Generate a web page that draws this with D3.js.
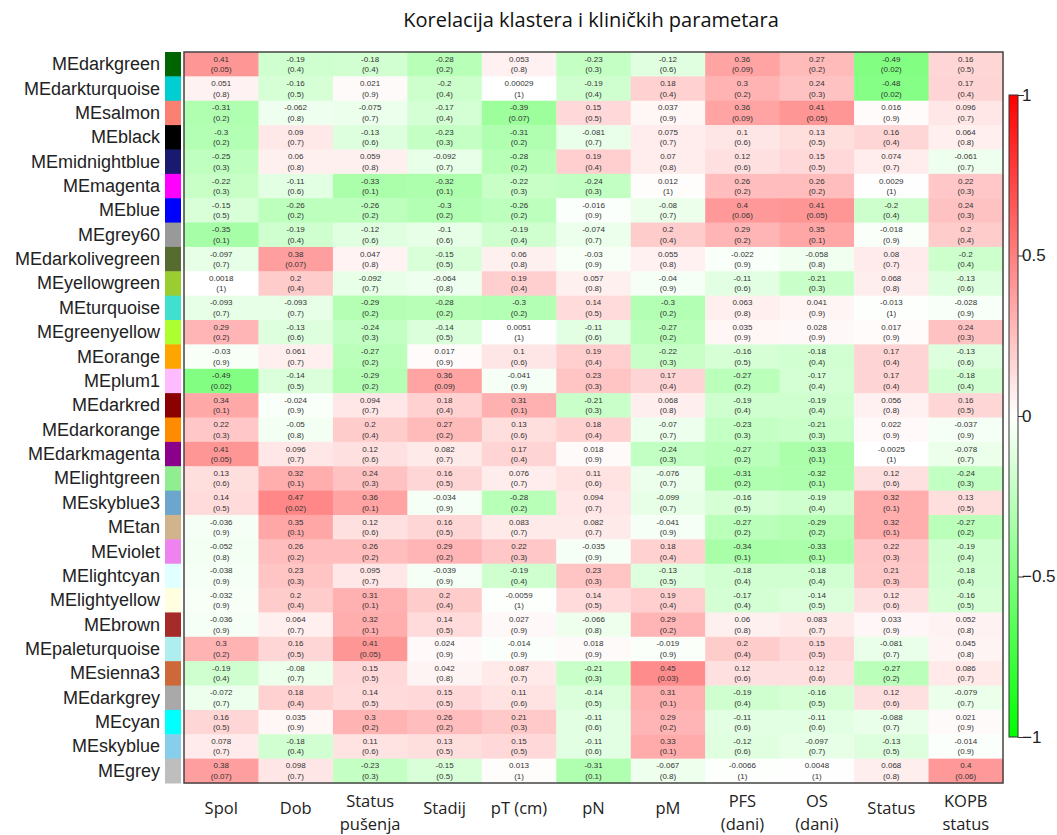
<!DOCTYPE html>
<html>
<head>
<meta charset="utf-8">
<script src="https://cdn.jsdelivr.net/npm/d3@7"></script>
<style>
  body { margin: 0; background: #fff; }
  svg { display: block; }
</style>
</head>
<body>
<svg id="chart" width="1057" height="835"></svg>
<script>

// Module eigengenes (rows)
const modules = ["darkgreen", "darkturquoise", "salmon", "black", "midnightblue", "magenta", "blue", "grey60",
    "darkolivegreen", "yellowgreen", "turquoise", "greenyellow", "orange", "plum1", "darkred", "darkorange",
    "darkmagenta", "lightgreen", "skyblue3", "tan", "violet", "lightcyan", "lightyellow", "brown",
    "paleturquoise", "sienna3", "darkgrey", "cyan", "skyblue", "grey"];

// Clinical traits (columns)
const traits = ["Spol", "Dob", "Status\npušenja", "Stadij", "pT (cm)", "pN", "pM", "PFS\n(dani)", "OS\n(dani)", "Status", "KOPB\nstatus"];

// Correlations, one row per module
const corr = [
    [0.41, -0.19, -0.18, -0.28, 0.053, -0.23, -0.12, 0.36, 0.27, -0.49, 0.16],
    [0.051, -0.16, 0.021, -0.2, 0.00029, -0.19, 0.18, 0.3, 0.24, -0.48, 0.17],
    [-0.31, -0.062, -0.075, -0.17, -0.39, 0.15, 0.037, 0.36, 0.41, 0.016, 0.096],
    [-0.3, 0.09, -0.13, -0.23, -0.31, -0.081, 0.075, 0.1, 0.13, 0.16, 0.064],
    [-0.25, 0.06, 0.059, -0.092, -0.28, 0.19, 0.07, 0.12, 0.15, 0.074, -0.061],
    [-0.22, -0.11, -0.33, -0.32, -0.22, -0.24, 0.012, 0.26, 0.26, 0.0029, 0.22],
    [-0.15, -0.26, -0.26, -0.3, -0.26, -0.016, -0.08, 0.4, 0.41, -0.2, 0.24],
    [-0.35, -0.19, -0.12, -0.1, -0.19, -0.074, 0.2, 0.29, 0.35, -0.018, 0.2],
    [-0.097, 0.38, 0.047, -0.15, 0.06, -0.03, 0.055, -0.022, -0.058, 0.08, -0.2],
    [0.0018, 0.2, -0.092, -0.064, 0.19, 0.057, -0.04, -0.11, -0.21, 0.068, -0.13],
    [-0.093, -0.093, -0.29, -0.28, -0.3, 0.14, -0.3, 0.063, 0.041, -0.013, -0.028],
    [0.29, -0.13, -0.24, -0.14, 0.0051, -0.11, -0.27, 0.035, 0.028, 0.017, 0.24],
    [-0.03, 0.061, -0.27, 0.017, 0.1, 0.19, -0.22, -0.16, -0.18, 0.17, -0.13],
    [-0.49, -0.14, -0.29, 0.36, -0.041, 0.23, 0.17, -0.27, -0.17, 0.17, -0.18],
    [0.34, -0.024, 0.094, 0.18, 0.31, -0.21, 0.068, -0.19, -0.19, 0.056, 0.16],
    [0.22, -0.05, 0.2, 0.27, 0.13, 0.18, -0.07, -0.23, -0.21, 0.022, -0.037],
    [0.41, 0.096, 0.12, 0.082, 0.17, 0.018, -0.24, -0.27, -0.33, -0.0025, -0.078],
    [0.13, 0.32, 0.24, 0.16, 0.076, 0.11, -0.076, -0.31, -0.32, 0.12, -0.24],
    [0.14, 0.47, 0.36, -0.034, -0.28, 0.094, -0.099, -0.16, -0.19, 0.32, 0.13],
    [-0.036, 0.35, 0.12, 0.16, 0.083, 0.082, -0.041, -0.27, -0.29, 0.32, -0.27],
    [-0.052, 0.26, 0.26, 0.29, 0.22, -0.035, 0.18, -0.34, -0.33, 0.22, -0.19],
    [-0.038, 0.23, 0.095, -0.039, -0.19, 0.23, -0.13, -0.18, -0.18, 0.21, -0.18],
    [-0.032, 0.2, 0.31, 0.2, -0.0059, 0.14, 0.19, -0.17, -0.14, 0.12, -0.16],
    [-0.036, 0.064, 0.32, 0.14, 0.027, -0.066, 0.29, 0.06, 0.083, 0.033, 0.052],
    [0.3, 0.16, 0.41, 0.024, -0.014, 0.018, -0.019, 0.2, 0.15, -0.081, 0.045],
    [-0.19, -0.08, 0.15, 0.042, 0.087, -0.21, 0.45, 0.12, 0.12, -0.27, 0.086],
    [-0.072, 0.18, 0.14, 0.15, 0.11, -0.14, 0.31, -0.19, -0.16, 0.12, -0.079],
    [0.16, 0.035, 0.3, 0.26, 0.21, -0.11, 0.29, -0.11, -0.11, -0.088, 0.021],
    [0.078, -0.18, 0.11, 0.13, 0.15, -0.11, 0.33, -0.12, -0.097, -0.13, -0.014],
    [0.38, 0.098, -0.23, -0.15, 0.013, -0.31, -0.067, -0.0066, 0.0048, 0.068, 0.4]
];

// p-values, same layout
const pval = [
    [0.05, 0.4, 0.4, 0.2, 0.8, 0.3, 0.6, 0.09, 0.2, 0.02, 0.5],
    [0.8, 0.5, 0.9, 0.4, 1, 0.4, 0.4, 0.2, 0.3, 0.02, 0.4],
    [0.2, 0.8, 0.7, 0.4, 0.07, 0.5, 0.9, 0.09, 0.05, 0.9, 0.7],
    [0.2, 0.7, 0.6, 0.3, 0.2, 0.7, 0.7, 0.6, 0.5, 0.4, 0.8],
    [0.3, 0.8, 0.8, 0.7, 0.2, 0.4, 0.8, 0.6, 0.5, 0.7, 0.7],
    [0.3, 0.6, 0.1, 0.1, 0.3, 0.3, 1, 0.2, 0.2, 1, 0.3],
    [0.5, 0.2, 0.2, 0.2, 0.2, 0.9, 0.7, 0.06, 0.05, 0.4, 0.3],
    [0.1, 0.4, 0.6, 0.6, 0.4, 0.7, 0.4, 0.2, 0.1, 0.9, 0.4],
    [0.7, 0.07, 0.8, 0.5, 0.8, 0.9, 0.8, 0.9, 0.8, 0.7, 0.4],
    [1, 0.4, 0.7, 0.8, 0.4, 0.8, 0.9, 0.6, 0.3, 0.8, 0.6],
    [0.7, 0.7, 0.2, 0.2, 0.2, 0.5, 0.2, 0.8, 0.9, 1, 0.9],
    [0.2, 0.6, 0.3, 0.5, 1, 0.6, 0.2, 0.9, 0.9, 0.9, 0.3],
    [0.9, 0.7, 0.2, 0.9, 0.6, 0.4, 0.3, 0.5, 0.4, 0.4, 0.6],
    [0.02, 0.5, 0.2, 0.09, 0.9, 0.3, 0.4, 0.2, 0.4, 0.4, 0.4],
    [0.1, 0.9, 0.7, 0.4, 0.1, 0.3, 0.8, 0.4, 0.4, 0.8, 0.5],
    [0.3, 0.8, 0.4, 0.2, 0.6, 0.4, 0.7, 0.3, 0.3, 0.9, 0.9],
    [0.05, 0.7, 0.6, 0.7, 0.4, 0.9, 0.3, 0.2, 0.1, 1, 0.7],
    [0.6, 0.1, 0.3, 0.5, 0.7, 0.6, 0.7, 0.2, 0.1, 0.6, 0.3],
    [0.5, 0.02, 0.1, 0.9, 0.2, 0.7, 0.7, 0.5, 0.4, 0.1, 0.5],
    [0.9, 0.1, 0.6, 0.5, 0.7, 0.7, 0.9, 0.2, 0.2, 0.1, 0.2],
    [0.8, 0.2, 0.2, 0.2, 0.3, 0.9, 0.4, 0.1, 0.1, 0.3, 0.4],
    [0.9, 0.3, 0.7, 0.9, 0.4, 0.3, 0.5, 0.4, 0.4, 0.3, 0.4],
    [0.9, 0.4, 0.1, 0.4, 1, 0.5, 0.4, 0.4, 0.5, 0.6, 0.5],
    [0.9, 0.7, 0.1, 0.5, 0.9, 0.8, 0.2, 0.8, 0.7, 0.9, 0.8],
    [0.2, 0.5, 0.05, 0.9, 0.9, 0.9, 0.9, 0.4, 0.5, 0.7, 0.8],
    [0.4, 0.7, 0.5, 0.8, 0.7, 0.3, 0.03, 0.6, 0.6, 0.2, 0.7],
    [0.7, 0.4, 0.5, 0.5, 0.6, 0.5, 0.1, 0.4, 0.5, 0.6, 0.7],
    [0.5, 0.9, 0.2, 0.2, 0.3, 0.6, 0.2, 0.6, 0.6, 0.7, 0.9],
    [0.7, 0.4, 0.6, 0.5, 0.5, 0.6, 0.1, 0.6, 0.7, 0.5, 0.9],
    [0.07, 0.7, 0.3, 0.5, 1, 0.1, 0.8, 1, 1, 0.8, 0.06]
];

const legendTicks = [1, 0.5, 0, -0.5, -1];

// R colour names the browser does not know
const rColours = { grey60: "#999999", plum1: "#FFBBFF", skyblue3: "#6CA6CD", sienna3: "#CD6839", grey: "#BEBEBE", darkgrey: "#A9A9A9" };

const svg = d3.select("#chart");
const box = { left: 184, right: 1003, top: 52, bottom: 783 };

const x = d3.scaleBand().domain(d3.range(traits.length)).range([box.left, box.right]);
const y = d3.scaleBand().domain(d3.range(modules.length)).range([box.top, box.bottom]);
const colour = d3.scaleLinear().domain([-1, 0, 1]).range(["#00ff00", "#ffffff", "#ff0000"]);

// Title
svg.append("text")
    .attr("x", 591).attr("y", 27)
    .attr("text-anchor", "middle")
    .style("font-family", "'Open Sans', sans-serif")
    .style("font-size", "20px")
    .style("fill", "#111")
    .text("Korelacija klastera i kliničkih parametara");

// Cells
const cells = [];
corr.forEach((row, i) => row.forEach((v, j) => cells.push({ i, j, v, p: pval[i][j] })));

const cell = svg.append("g").selectAll("g")
    .data(cells)
    .enter().append("g");
cell.append("rect")
    .attr("x", d => x(d.j))
    .attr("y", d => y(d.i))
    .attr("width", x.bandwidth() + 0.5)
    .attr("height", y.bandwidth() + 0.5)
    .style("fill", d => colour(d.v));
cell.append("text")
    .attr("x", d => x(d.j) + x.bandwidth() / 2)
    .attr("y", d => y(d.i) + y.bandwidth() / 2 - 2.5)
    .attr("text-anchor", "middle")
    .style("font-family", "'Liberation Sans', Arial, sans-serif")
    .style("font-size", "8px")
    .style("fill", "#333")
    .text(d => String(d.v));
cell.append("text")
    .attr("x", d => x(d.j) + x.bandwidth() / 2)
    .attr("y", d => y(d.i) + y.bandwidth() / 2 + 8)
    .attr("text-anchor", "middle")
    .style("font-family", "'Liberation Sans', Arial, sans-serif")
    .style("font-size", "8px")
    .style("fill", "#333")
    .text(d => `(${d.p})`);

// Frame
svg.append("rect")
    .attr("x", box.left).attr("y", box.top)
    .attr("width", box.right - box.left).attr("height", box.bottom - box.top)
    .style("fill", "none").style("stroke", "#444").style("stroke-width", 1.5);

// Module colour swatches and labels
svg.append("g").selectAll("rect")
    .data(modules)
    .enter().append("rect")
    .attr("x", 165).attr("y", (d, i) => y(i))
    .attr("width", 16).attr("height", y.bandwidth() + 0.5)
    .style("fill", d => rColours[d] || d);
svg.append("g").selectAll("text")
    .data(modules)
    .enter().append("text")
    .attr("x", 160).attr("y", (d, i) => y(i) + y.bandwidth() / 2 + 6)
    .attr("text-anchor", "end")
    .style("font-family", "'Liberation Sans', Arial, sans-serif")
    .style("font-size", "18px")
    .style("fill", "#222")
    .text(d => "ME" + d);

// Trait labels
const traitLabel = svg.append("g").selectAll("text")
    .data(traits)
    .enter().append("text")
    .attr("text-anchor", "middle")
    .attr("transform", (d, j) => `translate(${x(j) + x.bandwidth() / 2}, ${d.includes("\n") ? 807 : 814})`)
    .style("font-family", "'Open Sans', sans-serif")
    .style("font-size", "16.5px")
    .style("fill", "#222");
traitLabel.selectAll("tspan")
    .data(d => d.split("\n"))
    .enter().append("tspan")
    .attr("x", 0)
    .attr("dy", (d, k) => k === 0 ? 0 : 23)
    .text(d => d);

// Colour legend
const legendScale = d3.scaleLinear().domain([-1, 1]).range([737, 95]);
const defs = svg.append("defs");
const grad = defs.append("linearGradient")
    .attr("id", "legendGrad")
    .attr("x1", 0).attr("y1", 1).attr("x2", 0).attr("y2", 0);
grad.selectAll("stop")
    .data([-1, 0, 1])
    .enter().append("stop")
    .attr("offset", d => (d + 1) / 2)
    .attr("stop-color", d => colour(d));
svg.append("rect")
    .attr("x", 1009).attr("y", legendScale(1))
    .attr("width", 9).attr("height", legendScale(-1) - legendScale(1))
    .style("fill", "url(#legendGrad)")
    .style("stroke", "#333").style("stroke-width", 1);
const legendAxis = svg.append("g")
    .attr("transform", "translate(1018, 0)")
    .call(d3.axisRight(legendScale).tickValues(legendTicks).tickSize(6).tickFormat(d3.format("")));
legendAxis.select(".domain").remove();
legendAxis.selectAll("line").style("stroke", "#333");
legendAxis.selectAll("text")
    .attr("x", 4)
    .style("font-family", "'Liberation Sans', Arial, sans-serif")
    .style("font-size", "17px")
    .style("fill", "#222");
</script>
</body>
</html>
